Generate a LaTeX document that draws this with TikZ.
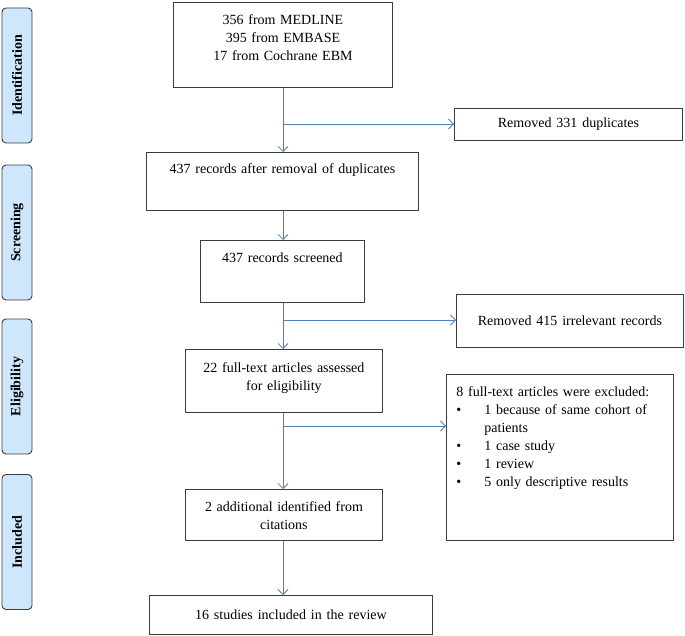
\documentclass[tikz,border=0pt]{standalone}
\usepackage{fontspec}
\setmainfont{Liberation Serif}
\usetikzlibrary{arrows.meta}

\definecolor{arrowblue}{RGB}{79,129,189}
\definecolor{phasefill}{RGB}{207,231,252}
\definecolor{boxline}{RGB}{60,60,60}

\newcommand{\wordgap}{\spaceskip=1.4\fontdimen2\font plus 1pt\relax}

\tikzset{
  box/.style={draw=boxline, line width=0.9pt, align=center, inner sep=0pt,
    font=\fontsize{14}{18}\selectfont\wordgap},
  phase/.style={draw=boxline, line width=0.9pt, fill=phasefill, rounded corners=4pt,
    rotate=90, minimum width=135pt, minimum height=30pt, inner sep=0pt,
    font=\fontsize{14}{18}\selectfont\bfseries},
  arr/.style={draw=arrowblue, line width=0.8pt, -{Straight Barb[length=5pt,width=10pt]}}
}

\begin{document}
\begin{tikzpicture}[x=1pt, y=-1pt]
\useasboundingbox (0,0) rectangle (685,636);

\node[phase] (ident) at (17,75.5) {Identification};
\node[phase] (screen) at (17,232.5) {Screening};
\node[phase] (elig) at (17,386.5) {Eligibility};
\node[phase] (incl) at (17,542) {Included};

\node[box, anchor=north west, text width=219pt, text height=22.5pt, text depth=62.5pt] (src) at (173,2)
  {356 from MEDLINE\\395 from EMBASE\\17 from Cochrane EBM};
\node[box, anchor=north west, minimum width=228pt, minimum height=32pt] (dup) at (454,108)
  {Removed 331 duplicates};
\node[box, anchor=north west, text width=272pt, text height=21.5pt, text depth=36.5pt] (after) at (146,152)
  {437 records after removal of duplicates};
\node[box, anchor=north west, text width=164pt, text height=22.5pt, text depth=39.5pt] (scr) at (200,240)
  {437 records screened};
\node[box, anchor=north west, minimum width=227pt, minimum height=53pt] (irr) at (456,294)
  {Removed 415 irrelevant records};
\node[box, anchor=north west, text width=197pt, text height=23pt, text depth=40pt] (full) at (185,349)
  {22 full-text articles assessed\\for eligibility};
\node[box, anchor=north west, align=left, inner xsep=10pt, text width=207pt, text height=22pt, text depth=144pt] (excl) at (446,374)
  {8 full-text articles were excluded:\\
   \makebox[28pt][l]{\textbullet}1 because of same cohort of\\
   \hspace*{28pt}patients\\
   \makebox[28pt][l]{\textbullet}1 case study\\
   \makebox[28pt][l]{\textbullet}1 review\\
   \makebox[28pt][l]{\textbullet}5 only descriptive results};
\node[box, anchor=north west, text width=197pt, text height=22.5pt, text depth=28.5pt] (add) at (185,489)
  {2 additional identified from\\citations};
\node[box, anchor=north west, minimum width=283pt, minimum height=39pt] (stud) at (149,595)
  {16 studies included in the review};

\coordinate (b1) at (283,124);
\coordinate (b2) at (283,320);
\coordinate (b3) at (283,426);

\path[arr] (b1 |- src.south) -- (b1 |- after.north);
\path[arr] (b1) -- (b1 -| dup.west);
\path[arr] (b1 |- after.south) -- (b1 |- scr.north);
\path[arr] (b1 |- scr.south) -- (b1 |- full.north);
\path[arr] (b2) -- (b2 -| irr.west);
\path[arr] (b1 |- full.south) -- (b1 |- add.north);
\path[arr] (b3) -- (b3 -| excl.west);
\path[arr] (b1 |- add.south) -- (b1 |- stud.north);

\end{tikzpicture}
\end{document}
